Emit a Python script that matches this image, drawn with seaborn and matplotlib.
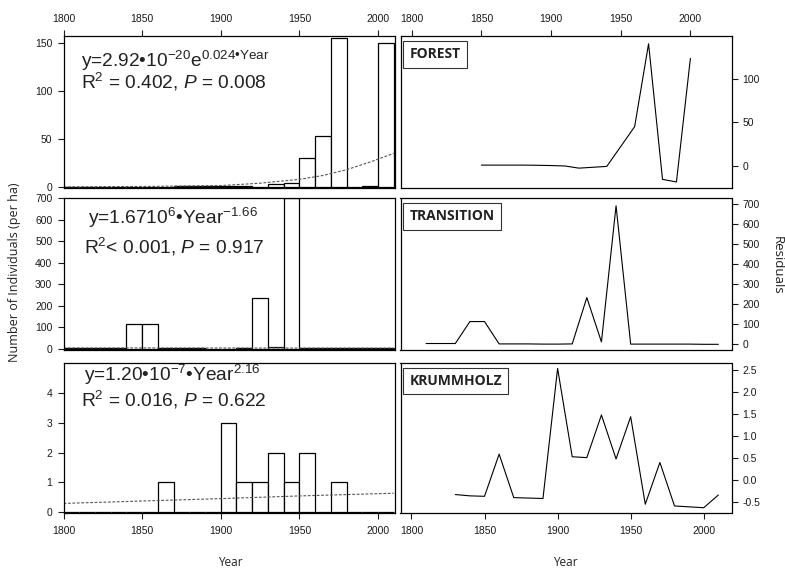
import numpy as np
import pandas as pd
import matplotlib
matplotlib.use("Agg")
import matplotlib.pyplot as plt
import seaborn as sns

# ---------------- data ----------------
bin_starts = list(range(1800, 2010, 10))  # 10-year classes 1800-2010

forest_counts = [0, 0, 0.3, 0.3, 0.5, 0.5, 0.5, 0.8, 1, 1, 1, 1, 0.5, 3, 4.5,
                 30, 53, 155, 0, 1.5, 150]
transition_counts = [4, 4, 4, 4, 115, 115, 3, 3, 3, 2, 2, 3, 236, 8, 700,
                     3, 3, 3, 3, 3, 3]
krummholz_counts = [0, 0, 0, 0, 0, 0, 1, 0, 0, 0, 3, 1, 1, 2, 1, 2, 0, 1, 0, 0, 0]

forest_fit_years = [1800, 1850, 1900, 1925, 1950, 1965, 1980, 1995, 2010]
forest_fit_vals = [0.2, 0.6, 1.5, 4, 8, 12, 18, 26, 35]
transition_fit_years = [1800, 1900, 2010]
transition_fit_vals = [5.5, 5.0, 4.6]
krummholz_fit_years = [1800, 1850, 1900, 1950, 2010]
krummholz_fit_vals = [0.30, 0.38, 0.46, 0.55, 0.64]

forest_res_years = list(range(1850, 2001, 10))
forest_res = [0.5, 0.5, 0.5, 0.5, 0.3, 0, -0.5, -3, -2, -1, 22, 45, 141, -16, -19, 124]
transition_res_years = list(range(1810, 2011, 10))
transition_res = [0, 0, 0, 110, 110, -2, -2, -2, -3, -3, -2, 230, 8, 690,
                  -3, -3, -3, -3, -3, -4, -4]
krummholz_res_years = list(range(1830, 2011, 10))
krummholz_res = [-0.33, -0.36, -0.37, 0.59, -0.40, -0.41, -0.42, 2.54, 0.53, 0.51,
                 1.48, 0.48, 1.44, -0.55, 0.40, -0.59, -0.61, -0.63, -0.34]

panel_names = ["FOREST", "TRANSITION", "KRUMMHOLZ"]
eq_line1 = [r"y=2.92•10$^{\mathrm{-20}}$e$^{\mathrm{0.024•Year}}$",
            r"y=1.6710$^{\mathrm{6}}$•Year$^{\mathrm{-1.66}}$",
            r"y=1.20•10$^{\mathrm{-7}}$•Year$^{\mathrm{2.16}}$"]
eq_line2 = [r"R$^{\mathrm{2}}$ = 0.402, $P$ = 0.008",
            r"R$^{\mathrm{2}}$< 0.001, $P$ = 0.917",
            r"R$^{\mathrm{2}}$ = 0.016, $P$ = 0.622"]

year_ticks = [1800, 1850, 1900, 1950, 2000]
left_yticks = [[0, 50, 100, 150], list(range(0, 701, 100)), [0, 1, 2, 3, 4]]
right_yticks = [[0, 50, 100], list(range(0, 701, 100)),
                [-0.5, 0.0, 0.5, 1.0, 1.5, 2.0, 2.5]]

# ---------------- style ----------------
sns.set_style("ticks")
plt.rcParams["font.family"] = ["Liberation Sans", "DejaVu Sans"]
plt.rcParams["mathtext.fontset"] = "custom"
plt.rcParams["mathtext.rm"] = "Liberation Sans"
plt.rcParams["mathtext.it"] = "Liberation Sans:italic"
plt.rcParams["mathtext.bf"] = "Liberation Sans:bold"
plt.rcParams["axes.linewidth"] = 0.9
plt.rcParams["xtick.major.width"] = 0.8
plt.rcParams["ytick.major.width"] = 0.8
plt.rcParams["xtick.major.size"] = 4.5
plt.rcParams["ytick.major.size"] = 4.5
plt.rcParams["xtick.major.pad"] = 4.5
plt.rcParams["ytick.major.pad"] = 3.5
plt.rcParams["xtick.labelsize"] = 7.5
plt.rcParams["ytick.labelsize"] = 7.5
plt.rcParams["xtick.color"] = "#1a1a1a"
plt.rcParams["ytick.color"] = "#1a1a1a"

W, H = 785, 572
fig = plt.figure(figsize=(W / 100, H / 100), dpi=100)


def fax(x0, x1, y0, y1):
    return fig.add_axes([x0 / W, 1 - y1 / H, (x1 - x0) / W, (y1 - y0) / H])


rows = [(36, 188), (198, 349.5), (362.7, 513)]
left_axes = [fax(63.5, 394.5, *r) for r in rows]
right_axes = [fax(400.5, 731.5, *r) for r in rows]

counts_all = [forest_counts, transition_counts, krummholz_counts]
fits = [(forest_fit_years, forest_fit_vals), (transition_fit_years, transition_fit_vals),
        (krummholz_fit_years, krummholz_fit_vals)]
res = [(forest_res_years, forest_res), (transition_res_years, transition_res),
       (krummholz_res_years, krummholz_res)]
left_ylims = [(-1, 157), (-2, 700), (-0.02, 5.0)]
right_ylims = [(-26, 150), (-30, 729), (-0.75, 2.67)]
right_xlims = [(1792, 2029.5), (1792.5, 2019), (1792.5, 2019)]
eq_pos = [((81, 60.7), (81, 81.7), "left"),
          ((173, 218.3), (174, 246.7), "center"),
          ((172, 375), (174, 400), "center")]

for i in range(3):
    ax = left_axes[i]
    df = pd.DataFrame({"year": [b + 5.0 for b in bin_starts],
                       "count": [float(c) for c in counts_all[i]]})
    sns.histplot(data=df, x="year", weights="count", binwidth=10,
                 binrange=(1800, 2010), ax=ax, color="white", edgecolor="black",
                 linewidth=0.9, alpha=1)
    sns.lineplot(x=fits[i][0], y=fits[i][1], ax=ax, color="#555555", linewidth=0.8,
                 linestyle=(0, (2.5, 1.5)))
    ax.set_xlim(1800, 2010.5)
    ax.set_ylim(*left_ylims[i])
    ax.set_yticks(left_yticks[i])
    ax.set_xticks(year_ticks)
    ax.set_xlabel("")
    ax.set_ylabel("")
    for s in ax.spines.values():
        s.set_visible(True)
        s.set_color("black")
    if i == 0:
        ax.xaxis.tick_top()
    elif i == 1:
        ax.tick_params(axis="x", bottom=False, labelbottom=False)
    (p1, p2, ha) = eq_pos[i]
    for (px, py), txt in zip([p1, p2], [eq_line1[i], eq_line2[i]]):
        fig.text(px / W, 1 - py / H, txt, ha=ha, va="center", fontsize=13.8,
                 color="#222222")

    ax = right_axes[i]
    sns.lineplot(x=res[i][0], y=res[i][1], ax=ax, color="black", linewidth=0.8)
    ax.set_xlim(*right_xlims[i])
    ax.set_ylim(*right_ylims[i])
    ax.set_yticks(right_yticks[i])
    if i == 2:
        ax.set_yticklabels([f"{v:.1f}" for v in right_yticks[i]])
    ax.set_xticks(year_ticks)
    ax.set_xlabel("")
    ax.set_ylabel("")
    ax.yaxis.tick_right()
    for s in ax.spines.values():
        s.set_visible(True)
        s.set_color("black")
    if i == 0:
        ax.xaxis.tick_top()
    elif i == 1:
        ax.tick_params(axis="x", bottom=False, labelbottom=False)
    ax.text(0.027, 0.925, panel_names[i], transform=ax.transAxes, ha="left", va="top",
            fontsize=10, fontweight="bold", family=["Open Sans", "DejaVu Sans"],
            color="#222222",
            bbox=dict(boxstyle="square,pad=0.45", fc="white", ec="#333333", lw=0.8))

fig.text(15 / W, 1 - 272 / H, "Number of Individuals (per ha)", rotation=90,
         ha="center", va="center", fontsize=9, family=["Open Sans", "DejaVu Sans"],
         color="#222222")
fig.text(777 / W, 1 - 265 / H, "Residuals", rotation=-90, ha="center", va="center",
         fontsize=9.5, family=["Open Sans", "DejaVu Sans"], color="#222222")
fig.text(230 / W, 1 - 563 / H, "Year", ha="center", va="center", fontsize=8.5,
         family=["Open Sans", "DejaVu Sans"], color="#222222")
fig.text(565 / W, 1 - 563 / H, "Year", ha="center", va="center", fontsize=8.5,
         family=["Open Sans", "DejaVu Sans"], color="#222222")

fig.savefig("out.png", dpi=100)
